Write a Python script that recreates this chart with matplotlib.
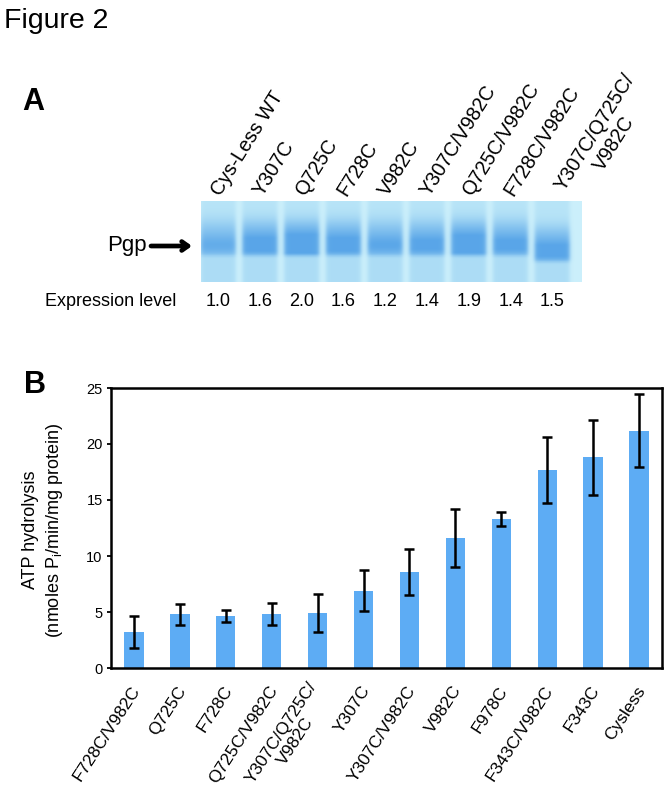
import numpy as np
import matplotlib
matplotlib.use('Agg')
import matplotlib.pyplot as plt

plt.rcParams['font.family'] = ['Liberation Sans', 'DejaVu Sans']
plt.rcParams['mathtext.fontset'] = 'custom'
plt.rcParams['mathtext.rm'] = 'Liberation Sans'
plt.rcParams['mathtext.it'] = 'Liberation Sans:italic'
plt.rcParams['mathtext.bf'] = 'Liberation Sans:bold'

# ---------------- Panel A data ----------------
gel_lanes = ["Cys-Less WT", "Y307C", "Q725C", "F728C", "V982C",
             "Y307C/V982C", "Q725C/V982C", "F728C/V982C", "Y307C/Q725C/\nV982C"]
expression = [1.0, 1.6, 2.0, 1.6, 1.2, 1.4, 1.9, 1.4, 1.5]

# ---------------- Panel B data ----------------
mutants = ["F728C/V982C", "Q725C", "F728C", "Q725C/V982C", "Y307C/Q725C/\nV982C",
           "Y307C", "Y307C/V982C", "V982C", "F978C", "F343C/V982C", "F343C", "Cysless"]
atp = [3.2, 4.8, 4.65, 4.8, 4.9, 6.9, 8.55, 11.6, 13.3, 17.7, 18.8, 21.2]
err = [1.4, 0.95, 0.55, 1.0, 1.7, 1.85, 2.07, 2.6, 0.6, 2.93, 3.33, 3.25]
yticks = [0, 5, 10, 15, 20, 25]

W, H = 670, 798
fig = plt.figure(figsize=(W / 100, H / 100), dpi=100)
ov = fig.add_axes([0, 0, 1, 1])
ov.set_xlim(0, W)
ov.set_ylim(H, 0)
ov.axis('off')

# titles / panel letters
ov.text(4, 28, "Figure 2", fontsize=20.5, va='baseline', ha='left')
ov.text(22, 110, "A", fontsize=22, weight='bold', va='baseline', ha='left')
ov.text(24, 393, "B", fontsize=22, weight='bold', va='baseline', ha='left')

# ---------------- gel picture ----------------
gx0, gx1, gy0, gy1 = 201, 582, 201, 282
lane_x0, lane_dx, lane_hw = 218, 41.8, 17.5
band_shift = [0, 0, 0, 0, 0, 0, 0, 0, 6]
xs = np.linspace(gx0, gx1, 762)
ys = np.linspace(gy0, gy1, 162)
XX, YY = np.meshgrid(xs, ys)
gap_c = np.array([0.80, 0.94, 0.985])
lane_c = np.array([0.72, 0.895, 0.97])
band_c = np.array([0.35, 0.65, 0.91])
img = np.ones(XX.shape + (3,)) * gap_c
for i, lvl in enumerate(expression):
    cx = lane_x0 + lane_dx * i
    m = 1.0 / (1.0 + np.exp((np.abs(XX - cx) - lane_hw) / 1.2))
    yb = YY - band_shift[i]
    core = 1.0 / (1.0 + np.exp((yb - 256) / 0.9)) * np.exp(-((yb - 246) / 14.0) ** 2)
    upper = 0.35 * np.exp(-((yb - 228) / 12.0) ** 2)
    lower = 0.12 * (yb > 256)
    k = 0.35 + 0.45 * (lvl - 1.0)
    inten = np.clip((core * (0.5 + k) + upper * (0.5 + k) + lower), 0, 1)
    lane_img = lane_c * (1 - inten[..., None]) + band_c * inten[..., None]
    img = img * (1 - m[..., None]) + lane_img * m[..., None]
ov.imshow(img, extent=(gx0, gx1, gy1, gy0), aspect='auto', interpolation='bilinear', zorder=1)
ov.set_xlim(0, W)
ov.set_ylim(H, 0)

for i, (lab, lvl) in enumerate(zip(gel_lanes, expression)):
    cx = lane_x0 + lane_dx * i
    if "\n" in lab:
        ov.text(cx + 28, 202, lab, rotation=58, rotation_mode='anchor', ha='left',
                va='baseline', fontsize=14.2, multialignment='center')
    else:
        ov.text(cx + 3, 197, lab, rotation=58, rotation_mode='anchor', ha='left',
                va='baseline', fontsize=14.2)
    ov.text(cx, 301, f"{lvl:.1f}", ha='center', va='center', fontsize=13)

ov.text(45, 301, "Expression level", ha='left', va='center', fontsize=13)
ov.text(147, 251, "Pgp", ha='right', va='baseline', fontsize=16)
ov.annotate('', xy=(192, 246), xytext=(151, 246),
            arrowprops=dict(arrowstyle='->,head_length=0.45,head_width=0.32', lw=3.4,
                            color='black', shrinkA=0, shrinkB=0))

# y label of panel B
ov.text(43.5, 530, "ATP hydrolysis\n(nmoles P$_{\\mathrm{i}}$/min/mg protein)", rotation=90,
        ha='center', va='center', fontsize=13, linespacing=1.35, multialignment='center')

# ---------------- Panel B ----------------
ax = fig.add_axes([111 / W, 1 - 668 / H, 551 / W, 280 / H])
ax.patch.set_alpha(0)
x = np.arange(len(mutants))
ax.bar(x, atp, width=0.42, color='#5dacf4', zorder=2)
ax.errorbar(x, atp, yerr=err, fmt='none', ecolor='black', elinewidth=1.8,
            capsize=3.6, capthick=1.8, zorder=3)
ax.set_xlim(-0.5, len(mutants) - 0.5)
ax.set_ylim(0, 25)
ax.set_yticks(yticks)
ax.tick_params(axis='y', direction='out', length=3, width=1.3, labelsize=10.5, pad=3)
ax.set_xticks(x + 0.065)
ax.set_xticklabels(mutants, rotation=57, ha='right', va='center', rotation_mode='anchor',
                   fontsize=12.5, multialignment='center')
ax.tick_params(axis='x', length=0, pad=14)
for s in ax.spines.values():
    s.set_linewidth(1.8)
    s.set_color('black')

fig.savefig('out.png', dpi=100)
